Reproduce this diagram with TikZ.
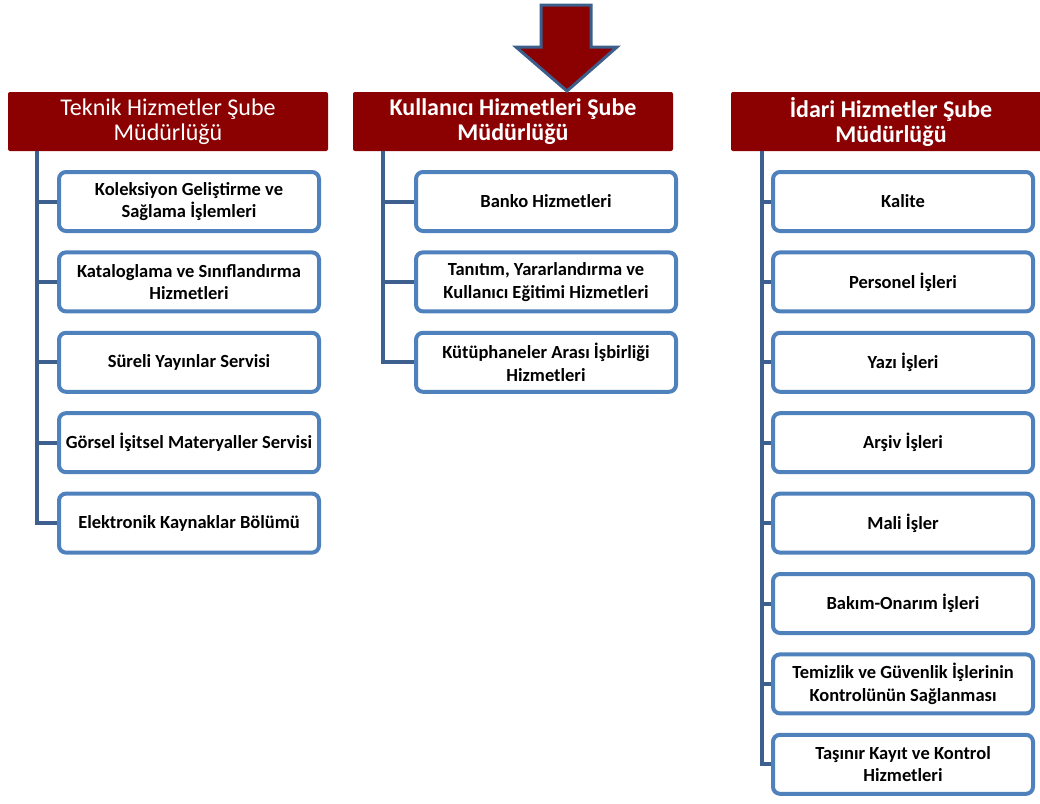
\documentclass[tikz,border=0pt]{standalone}
\usepackage{fontspec}
\setmainfont{Carlito}
\definecolor{hdrred}{RGB}{139,0,0}
\definecolor{boxblue}{RGB}{79,129,189}
\definecolor{linkblue}{RGB}{62,96,143}
\definecolor{arrowedge}{RGB}{60,94,138}
\begin{document}
\begin{tikzpicture}[x=1pt,y=-1pt,
  hdr/.style={fill=hdrred, text=white, rounded corners=2pt, minimum width=320pt, minimum height=59pt, inner sep=0pt, align=center, font=\fontsize{24}{25}\selectfont},
  hdrb/.style={hdr, font=\fontsize{24}{25}\selectfont\bfseries},
  child/.style={draw=boxblue, line width=4pt, fill=white, rounded corners=7pt, minimum width=260pt, minimum height=59pt, inner sep=0pt, align=center, font=\fontsize{18.5}{22.5}\selectfont\bfseries},
  conn/.style={draw=linkblue, line width=4pt}]
\useasboundingbox (0,0) rectangle (1040,803);
% headers
\node[hdr] (h1) at (168,121.5) {Teknik Hizmetler Şube\\Müdürlüğü};
\node[hdrb] (h2) at (513,121.5) {Kullanıcı Hizmetleri Şube\\Müdürlüğü};
\node[hdrb] (h3) at (891,121.5) {İdari Hizmetler Şube\\Müdürlüğü};
% arrow
\draw[fill=hdrred, draw=arrowedge, line width=3pt, line join=miter]
  (541,5) -- (591,5) -- (591,47) -- (617,47) -- (567,91) -- (516,47) -- (541,47) -- cycle;
% Teknik children
\node[child] (a1) at (189,201.5) {Koleksiyon Geliştirme ve\\Sağlama İşlemleri};
\node[child] (a2) at (189,281.9) {Kataloglama ve Sınıflandırma\\Hizmetleri};
\node[child] (a3) at (189,362.3) {Süreli Yayınlar Servisi};
\node[child] (a4) at (189,442.7) {Görsel İşitsel Materyaller Servisi};
\node[child] (a5) at (189,523.1) {Elektronik Kaynaklar Bölümü};
% Kullanici children
\node[child] (b1) at (546,201.5) {Banko Hizmetleri};
\node[child] (b2) at (546,281.9) {Tanıtım, Yararlandırma ve\\Kullanıcı Eğitimi Hizmetleri};
\node[child] (b3) at (546,362.3) {Kütüphaneler Arası İşbirliği\\Hizmetleri};
% Idari children
\node[child] (c1) at (903,201.5) {Kalite};
\node[child] (c2) at (903,281.9) {Personel İşleri};
\node[child] (c3) at (903,362.3) {Yazı İşleri};
\node[child] (c4) at (903,442.7) {Arşiv İşleri};
\node[child] (c5) at (903,523.1) {Mali İşler};
\node[child] (c6) at (903,603.5) {Bakım-Onarım İşleri};
\node[child] (c7) at (903,683.9) {Temizlik ve Güvenlik İşlerinin\\Kontrolünün Sağlanması};
\node[child] (c8) at (903,764.3) {Taşınır Kayıt ve Kontrol\\Hizmetleri};
% connectors
\coordinate (ta) at (37,151);
\coordinate (tb) at (383,151);
\coordinate (tc) at (762,151);
\foreach \n in {a1,a2,a3,a4,a5} \draw[conn] (ta) |- (\n.west);
\foreach \n in {b1,b2,b3} \draw[conn] (tb) |- (\n.west);
\foreach \n in {c1,c2,c3,c4,c5,c6,c7,c8} \draw[conn] (tc) |- (\n.west);
\end{tikzpicture}
\end{document}
